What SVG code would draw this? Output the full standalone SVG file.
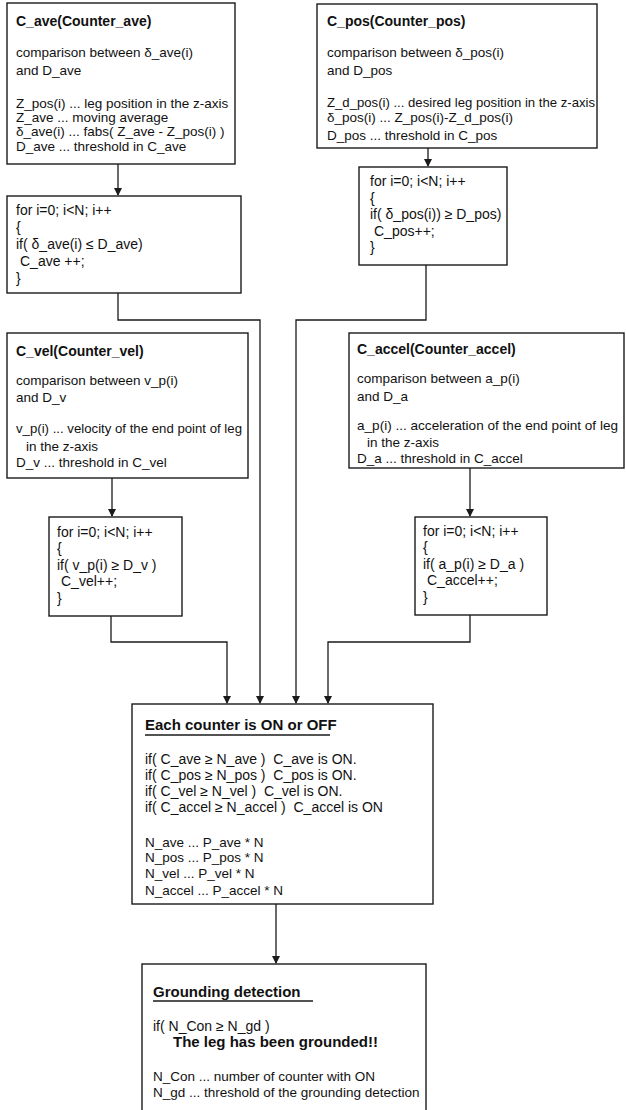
<svg xmlns="http://www.w3.org/2000/svg" width="626" height="1110" viewBox="0 0 626 1110">
<style>
.box{fill:#fff;stroke:#1a1a1a;stroke-width:1.4}
.t{font-family:"Liberation Sans",Arial,sans-serif;font-size:13.5px;fill:#111}
.c{font-family:"Liberation Sans",Arial,sans-serif;font-size:14px;fill:#111;white-space:pre}
.b{font-family:"Liberation Sans",Arial,sans-serif;font-size:14px;font-weight:bold;fill:#111}
.h{font-family:"Liberation Sans",Arial,sans-serif;font-size:15px;font-weight:bold;fill:#111}
.ln{fill:none;stroke:#1a1a1a;stroke-width:1.3}
.ul{stroke:#1a1a1a;stroke-width:1.3}
</style>
<defs>
<marker id="arr" markerUnits="userSpaceOnUse" markerWidth="8" markerHeight="10" refX="7" refY="4" orient="auto">
<path d="M0,0 L8,4 L0,8 Z" fill="#1a1a1a"/>
</marker>
</defs>
<rect width="626" height="1110" fill="#fff"/>

<g id="connectors">
<path class="ln" d="M118,164 V195" marker-end="url(#arr)"/>
<path class="ln" d="M428,148 V166" marker-end="url(#arr)"/>
<path class="ln" d="M112,478 V516" marker-end="url(#arr)"/>
<path class="ln" d="M470,468 V516" marker-end="url(#arr)"/>
<path class="ln" d="M118,293 V320 H260 V703" marker-end="url(#arr)"/>
<path class="ln" d="M426,265 V320 H296 V703" marker-end="url(#arr)"/>
<path class="ln" d="M111,616 V642 H227 V703" marker-end="url(#arr)"/>
<path class="ln" d="M470,615 V642 H328 V703" marker-end="url(#arr)"/>
<path class="ln" d="M276,904 V963" marker-end="url(#arr)"/>
</g>

<g id="c_ave">
<rect class="box" x="7" y="3" width="228" height="161"/>
<text class="b" x="16" y="26">C_ave(Counter_ave)</text>
<text class="t" x="16" y="57">comparison between δ_ave(i)</text>
<text class="t" x="16" y="75">and D_ave</text>
<text class="t" x="16" y="108">Z_pos(i) ... leg position in the z-axis</text>
<text class="t" x="16" y="122">Z_ave ... moving average</text>
<text class="t" x="16" y="136">δ_ave(i) ... fabs( Z_ave - Z_pos(i) )</text>
<text class="t" x="16" y="151">D_ave ... threshold in C_ave</text>
</g>

<g id="c_pos">
<rect class="box" x="317" y="4" width="280" height="144"/>
<text class="b" x="327" y="26">C_pos(Counter_pos)</text>
<text class="t" x="327" y="57">comparison between δ_pos(i)</text>
<text class="t" x="327" y="75">and D_pos</text>
<text class="t" x="327" y="107" textLength="268" lengthAdjust="spacingAndGlyphs">Z_d_pos(i) ... desired leg position in the z-axis</text>
<text class="t" x="327" y="122">δ_pos(i) ... Z_pos(i)-Z_d_pos(i)</text>
<text class="t" x="327" y="140">D_pos ... threshold in C_pos</text>
</g>

<g id="loop_ave">
<rect class="box" x="7" y="196" width="234" height="97"/>
<text class="c" x="16" y="215">for i=0; i&lt;N; i++</text>
<text class="c" x="16" y="232">{</text>
<text class="c" x="16" y="249">if( δ_ave(i) ≤ D_ave)</text>
<text class="c" x="20" y="266">C_ave ++;</text>
<text class="c" x="16" y="283">}</text>
</g>

<g id="loop_pos">
<rect class="box" x="359" y="167" width="148" height="98"/>
<text class="c" x="370" y="186">for i=0; i&lt;N; i++</text>
<text class="c" x="370" y="203">{</text>
<text class="c" x="370" y="219">if( δ_pos(i)) ≥ D_pos)</text>
<text class="c" x="374" y="236">C_pos++;</text>
<text class="c" x="370" y="252">}</text>
</g>

<g id="c_vel">
<rect class="box" x="7" y="333" width="241" height="145"/>
<text class="b" x="16" y="356">C_vel(Counter_vel)</text>
<text class="t" x="16" y="385">comparison between v_p(i)</text>
<text class="t" x="16" y="402">and D_v</text>
<text class="t" x="16" y="433" textLength="226" lengthAdjust="spacingAndGlyphs">v_p(i) ... velocity of the end point of leg</text>
<text class="t" x="26" y="451">in the z-axis</text>
<text class="t" x="16" y="467">D_v ... threshold in C_vel</text>
</g>

<g id="c_accel">
<rect class="box" x="349" y="333" width="275" height="135"/>
<text class="b" x="357" y="354">C_accel(Counter_accel)</text>
<text class="t" x="357" y="383">comparison between a_p(i)</text>
<text class="t" x="357" y="401">and D_a</text>
<text class="t" x="357" y="430" textLength="261" lengthAdjust="spacingAndGlyphs">a_p(i) ... acceleration of the end point of leg</text>
<text class="t" x="367" y="447">in the z-axis</text>
<text class="t" x="357" y="463">D_a ... threshold in C_accel</text>
</g>

<g id="loop_vel">
<rect class="box" x="49" y="517" width="133" height="99"/>
<text class="c" x="57" y="537">for i=0; i&lt;N; i++</text>
<text class="c" x="57" y="553">{</text>
<text class="c" x="57" y="570">if( v_p(i) ≥ D_v )</text>
<text class="c" x="61" y="586">C_vel++;</text>
<text class="c" x="57" y="603">}</text>
</g>

<g id="loop_accel">
<rect class="box" x="415" y="517" width="132" height="98"/>
<text class="c" x="423" y="536">for i=0; i&lt;N; i++</text>
<text class="c" x="423" y="552">{</text>
<text class="c" x="423" y="569">if( a_p(i) ≥ D_a )</text>
<text class="c" x="427" y="585">C_accel++;</text>
<text class="c" x="423" y="602">}</text>
</g>

<g id="on_off">
<rect class="box" x="132" y="704" width="301" height="200"/>
<text class="h" x="145" y="730">Each counter is ON or OFF</text>
<line class="ul" x1="145" y1="735" x2="330" y2="735"/>
<text class="c" x="145" y="764">if( C_ave ≥ N_ave )  C_ave is ON.</text>
<text class="c" x="145" y="780">if( C_pos ≥ N_pos )  C_pos is ON.</text>
<text class="c" x="145" y="796">if( C_vel ≥ N_vel )  C_vel is ON.</text>
<text class="c" x="145" y="812">if( C_accel ≥ N_accel )  C_accel is ON</text>
<text class="t" x="145" y="847">N_ave ... P_ave * N</text>
<text class="t" x="145" y="862">N_pos ... P_pos * N</text>
<text class="t" x="145" y="878">N_vel ... P_vel * N</text>
<text class="t" x="145" y="895">N_accel ... P_accel * N</text>
</g>

<g id="grounding">
<rect class="box" x="142" y="964" width="284" height="160"/>
<text class="h" x="153" y="997">Grounding detection</text>
<line class="ul" x1="153" y1="1001" x2="313" y2="1001"/>
<text class="c" x="153" y="1031">if( N_Con ≥ N_gd )</text>
<text class="h" x="173" y="1047">The leg has been grounded!!</text>
<text class="t" x="153" y="1081">N_Con ... number of counter with ON</text>
<text class="t" x="153" y="1097">N_gd ... threshold of the grounding detection</text>
</g>
</svg>
